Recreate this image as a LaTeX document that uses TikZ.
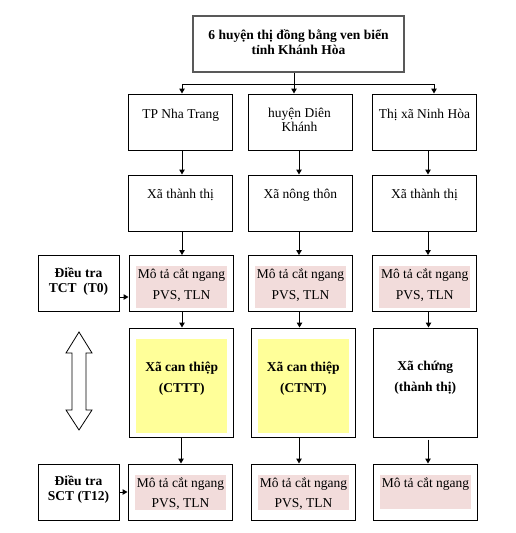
\documentclass[tikz,border=0pt]{standalone}
\usepackage{fontspec}
\setmainfont{Liberation Serif}
\usetikzlibrary{arrows.meta}

\definecolor{pinkfill}{HTML}{F2DCDB}
\definecolor{yellowfill}{HTML}{FFFF99}
\definecolor{titleborder}{HTML}{595959}

\tikzstyle{cell} = [rectangle, draw=black, line width=1pt, minimum width=104pt, minimum height=56pt, inner sep=0pt]
\tikzstyle{title} = [cell, draw=titleborder, line width=1.8pt, minimum width=211pt]
\tikzstyle{big} = [cell, minimum height=109pt]
\tikzstyle{survey} = [cell, minimum width=81pt]
\tikzstyle{pinkbg} = [rectangle, fill=pinkfill, minimum width=91pt, minimum height=42pt, inner sep=0pt]
\tikzstyle{yellowbg} = [rectangle, fill=yellowfill, minimum width=91pt, minimum height=94pt, inner sep=0pt]
\tikzstyle{txt} = [anchor=base, align=center, inner sep=0pt]
\tikzstyle{arrow} = [line width=1pt, -{Triangle[width=5.5pt,length=5pt]}]

\newcommand{\fs}[1]{\fontsize{13.5}{#1}\selectfont}

\begin{document}
\begin{tikzpicture}[x=1pt, y=-1pt]
		\useasboundingbox (0,0) rectangle (515,533);
		% Boxes
		\node (huyen) [title] at (298.5,44) {};
		\node (nhatrang) [cell] at (180,122) {};
		\node (dienkhanh) [cell] at (300,122) {};
		\node (ninhhoa) [cell] at (424,122) {};
		\node (xa1) [cell] at (180,203) {};
		\node (xa2) [cell] at (300,203) {};
		\node (xa3) [cell] at (424,203) {};
		\node (dieutra0) [survey] at (78.5,283.5) {};
		\node (mota1) [cell] at (181,283.5) {};
		\node (mota2) [cell] at (300,283.5) {};
		\node (mota3) [cell] at (424.5,283.5) {};
		\node (can1) [big] at (181,382.5) {};
		\node (can2) [big] at (303.5,382.5) {};
		\node (chung) [big] at (425,382.5) {};
		\node (dieutra12) [survey] at (78.5,492) {};
		\node (sau1) [cell] at (180,492) {};
		\node (sau2) [cell] at (303,492) {};
		\node (sau3) [cell] at (425,492) {};
		% Fills
		\node (bg1) [pinkbg] at (181.5,287) {};
		\node (bg2) [pinkbg] at (300.5,287) {};
		\node (bg3) [pinkbg] at (424.5,287) {};
		\node (ybg1) [yellowbg] at (181.5,386) {};
		\node (ybg2) [yellowbg] at (303.5,386) {};
		\node (bg4) [pinkbg, minimum height=35pt] at (180.5,492.5) {};
		\node (bg5) [pinkbg, minimum height=35pt] at (303.5,492.5) {};
		\node (bg6) [pinkbg, minimum height=34pt] at (425.5,492) {};
		% Texts (base = last line)
		\node (huyenT) [txt, font=\fs{15.5}\bfseries] at (298.5,54.5) {6 huyện thị đồng bằng ven biển\\tỉnh Khánh Hòa};
		\node (nhatrangT) [txt, font=\fs{14}] at (180.7,118) {TP Nha Trang};
		\node (dienkhanhT) [txt, font=\fs{14}] at (299.5,131.5) {huyện Diên\\Khánh};
		\node (ninhhoaT) [txt, font=\fs{14}] at (424.5,118) {Thị xã Ninh Hòa};
		\node (xa1T) [txt, font=\fs{14}] at (180.5,198.5) {Xã thành thị};
		\node (xa2T) [txt, font=\fs{14}] at (300.3,198.5) {Xã nông thôn};
		\node (xa3T) [txt, font=\fs{14}] at (424.5,198.5) {Xã thành thị};
		\node (dieutra0T) [txt, font=\fs{15}\bfseries] at (78.5,292) {Điều tra\\TCT~ (T0)};
		\node (mota1T) [txt, font=\fs{20.5}] at (181.5,299) {Mô tả cắt ngang\\PVS, TLN};
		\node (mota2T) [txt, font=\fs{20.5}] at (300.5,299) {Mô tả cắt ngang\\PVS, TLN};
		\node (mota3T) [txt, font=\fs{20.5}] at (424.7,299) {Mô tả cắt ngang\\PVS, TLN};
		\node (can1T) [txt, font=\fs{21}\bfseries] at (181.7,392) {Xã can thiệp\\(CTTT)};
		\node (can2T) [txt, font=\fs{21}\bfseries] at (303.3,392) {Xã can thiệp\\(CTNT)};
		\node (chungT) [txt, font=\fs{21}\bfseries] at (425.3,391) {Xã chứng\\(thành thị)};
		\node (dieutra12T) [txt, font=\fs{15}\bfseries] at (78.5,500.5) {Điều tra\\SCT (T12)};
		\node (sau1T) [txt, font=\fs{19.5}] at (180.5,507) {Mô tả cắt ngang\\PVS, TLN};
		\node (sau2T) [txt, font=\fs{19.5}] at (303.5,507) {Mô tả cắt ngang\\PVS, TLN};
		\node (sau3T) [txt, font=\fs{19.5}] at (425.5,487.5) {Mô tả cắt ngang};
		% Arrows
		\coordinate (fork) at (294,84);
		\draw [line width=1pt] (huyen.south -| fork) -- (fork);
		\draw [arrow] (fork) -| ([xshift=2pt]nhatrang.north);
		\draw [arrow] (fork) -- (fork |- dienkhanh.north);
		\draw [arrow] (fork) -| ([xshift=10pt]ninhhoa.north);
		\draw [arrow] ([xshift=2pt]nhatrang.south) -- ([xshift=2pt]xa1.north);
		\draw [arrow] ([xshift=-1pt]dienkhanh.south) -- ([xshift=-1pt]xa2.north);
		\draw [arrow] ([xshift=4pt]ninhhoa.south) -- ([xshift=4pt]xa3.north);
		\draw [arrow] ([xshift=2pt]xa1.south) -- ([xshift=2pt]xa1.south |- mota1.north);
		\draw [arrow] ([xshift=-1pt]xa2.south) -- ([xshift=-1pt]xa2.south |- mota2.north);
		\draw [arrow] ([xshift=4pt]xa3.south) -- ([xshift=4pt]xa3.south |- mota3.north);
		\draw [arrow] ([xshift=1pt]mota1.south) -- ([xshift=1pt]mota1.south |- can1.north);
		\draw [arrow] ([xshift=-0.5pt]mota2.south) -- ([xshift=-0.5pt]mota2.south |- can2.north);
		\draw [arrow] ([xshift=4pt]mota3.south) -- ([xshift=4pt]mota3.south |- chung.north);
		\draw [arrow] (can1.south) -- (can1.south |- sau1.north);
		\draw [arrow] ([xshift=-4.5pt]can2.south) -- ([xshift=-4.5pt]can2.south |- sau2.north);
		\draw [arrow] ([xshift=3pt,yshift=-2pt]chung.south) -- ([xshift=3pt]chung.south |- sau3.north);
		\draw [arrow] ([yshift=-13.5pt]dieutra0.east) -- ([yshift=-13.5pt]dieutra0.east -| mota1.west);
		\draw [arrow] (dieutra12) -- (sau1);
		% Double arrow
		\draw [line width=0.8pt] (79,332) -- (92,353) -- (86,353) -- (86,410) -- (92,410) -- (79,430) -- (66,410) -- (72,410) -- (72,353) -- (66,353) -- cycle;
	\end{tikzpicture}
\end{document}
